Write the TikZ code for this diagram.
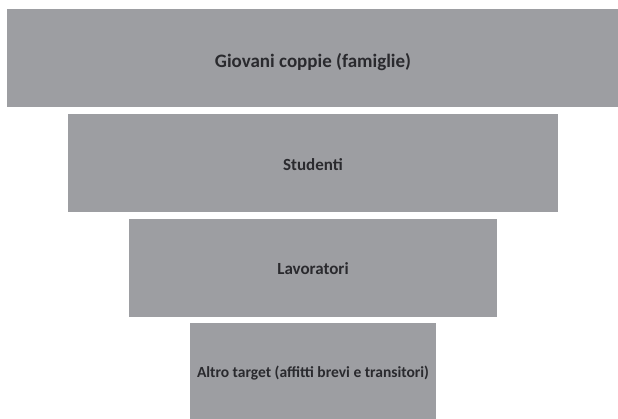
\documentclass[tikz,border=0pt]{standalone}
\usepackage{fontspec}
\setmainfont{Carlito}
\definecolor{boxgray}{HTML}{9D9EA2}
\definecolor{txt}{HTML}{2A2A2E}
\begin{document}
\begin{tikzpicture}[x=1pt,y=1pt,
  tier/.style={fill=boxgray, draw=none, inner sep=0pt},
  lbl/.style={text=txt, font=\bfseries}]
\useasboundingbox (0,0) rectangle (618,419);
\fill[white] (0,0) rectangle (618,419);
\path[tier] (7,312) rectangle (618,410);
\path[tier] (68,207) rectangle (558,305);
\path[tier] (129,102) rectangle (497,200);
\path[tier] (190,0) rectangle (436,96);
\node[lbl, font=\bfseries\fontsize{19}{22}\selectfont] (t1) at (313,357) {Giovani coppie (famiglie)};
\node[lbl, font=\bfseries\fontsize{17}{20}\selectfont] (t2) at (313,254) {Studenti};
\node[lbl, font=\bfseries\fontsize{17}{20}\selectfont] (t3) at (313,150) {Lavoratori};
\node[lbl, font=\bfseries\fontsize{15.5}{18}\selectfont] (t4) at (313,46) {Altro target (affitti brevi e transitori)};
\end{tikzpicture}
\end{document}
